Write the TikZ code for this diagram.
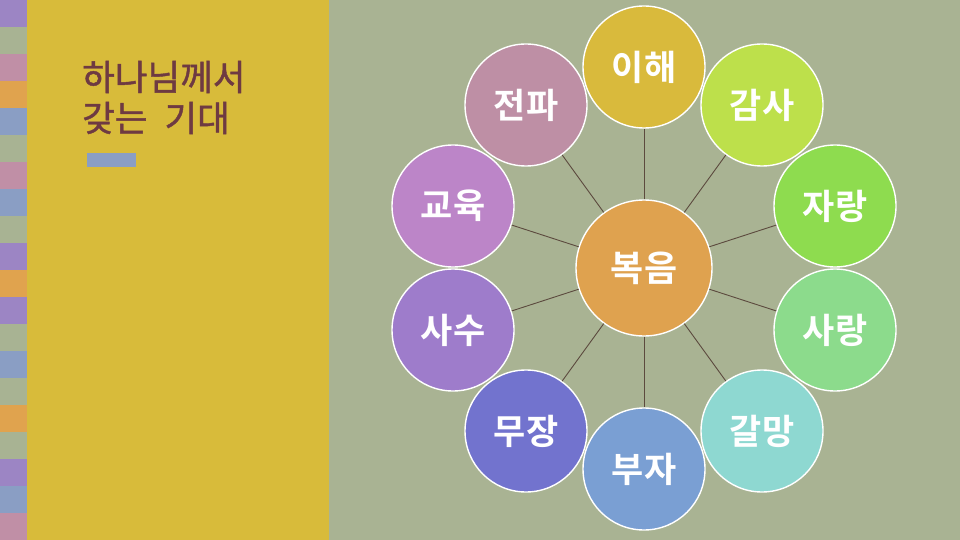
\documentclass[tikz,border=0pt]{standalone}
\usepackage{fontspec}
\newfontfamily\kr[FakeBold=1.2]{Noto Sans CJK KR}
\newfontfamily\krb{Noto Sans CJK KR Bold}
\definecolor{bgright}{HTML}{A9B393}
\definecolor{panel}{HTML}{D8BB3A}
\definecolor{sPurple}{HTML}{9C85C4}
\definecolor{sGreen}{HTML}{A8B393}
\definecolor{sPink}{HTML}{C08FA6}
\definecolor{sOrange}{HTML}{E0A34E}
\definecolor{sBlue}{HTML}{8A9EC4}
\definecolor{titlec}{HTML}{6E3A42}
\definecolor{linkc}{HTML}{5C4A3E}
\definecolor{cIhae}{HTML}{D9BA3C}
\definecolor{cGamsa}{HTML}{BDE04B}
\definecolor{cJarang}{HTML}{8EDC4F}
\definecolor{cSarang}{HTML}{8CDB8C}
\definecolor{cGalmang}{HTML}{8ED8D1}
\definecolor{cBuja}{HTML}{7A9FD3}
\definecolor{cMujang}{HTML}{7273CE}
\definecolor{cSasu}{HTML}{9E7CCB}
\definecolor{cGyoyuk}{HTML}{BC85C8}
\definecolor{cJeonpa}{HTML}{BE8FA5}
\definecolor{cBokeum}{HTML}{DFA24F}
\tikzset{
  outer/.style={circle, draw=white, line width=1.4pt, minimum size=122pt, inner sep=0pt,
    text=white, font=\krb\fontsize{35}{35}\selectfont},
  hub/.style={circle, draw=white, line width=1.4pt, minimum size=136pt, inner sep=0pt,
    text=white, font=\krb\fontsize{36}{36}\selectfont, fill=cBokeum},
  link/.style={draw=linkc, line width=0.9pt},
  titletext/.style={anchor=west, text=titlec, font=\kr\fontsize{35.5}{35.5}\selectfont, inner sep=0pt}
}
\begin{document}
\begin{tikzpicture}[x=1pt,y=-1pt]
\useasboundingbox (0,0) rectangle (960,540);
\fill[bgright] (0,0) rectangle (960,540);
\fill[panel] (27,0) rectangle (328.5,540);
% left strip
\foreach \c [count=\i from 0] in {sPurple,sGreen,sPink,sOrange,sBlue,sGreen,sPink,sBlue,sGreen,sPurple,sOrange,sPurple,sGreen,sBlue,sGreen,sOrange,sGreen,sPurple,sBlue,sPink}{
  \fill[\c] (0,{\i*27}) rectangle (27,{(\i+1)*27});
}
% title
\node[titletext] (t1) at (82,77) {하나님께서};
\node[titletext] (t2) at (82,118) {갖는\hspace{17pt}기대};
\fill[sBlue] (87,153) rectangle (136,167);
% diagram
\node[hub] (c) at (644,268) {복음};
\node[outer, fill=cIhae]    (o1)  at (644,67)  {이해};
\node[outer, fill=cGamsa]   (o2)  at (762,105) {감사};
\node[outer, fill=cJarang]  (o3)  at (835,206) {자랑};
\node[outer, fill=cSarang]  (o4)  at (835,330) {사랑};
\node[outer, fill=cGalmang] (o5)  at (762,431) {갈망};
\node[outer, fill=cBuja]    (o6)  at (644,469) {부자};
\node[outer, fill=cMujang]  (o7)  at (526,431) {무장};
\node[outer, fill=cSasu]    (o8)  at (453,330) {사수};
\node[outer, fill=cGyoyuk]  (o9)  at (453,206) {교육};
\node[outer, fill=cJeonpa]  (o10) at (526,105) {전파};
\foreach \i in {1,...,10}{ \draw[link] (c) -- (o\i); }
\end{tikzpicture}
\end{document}
